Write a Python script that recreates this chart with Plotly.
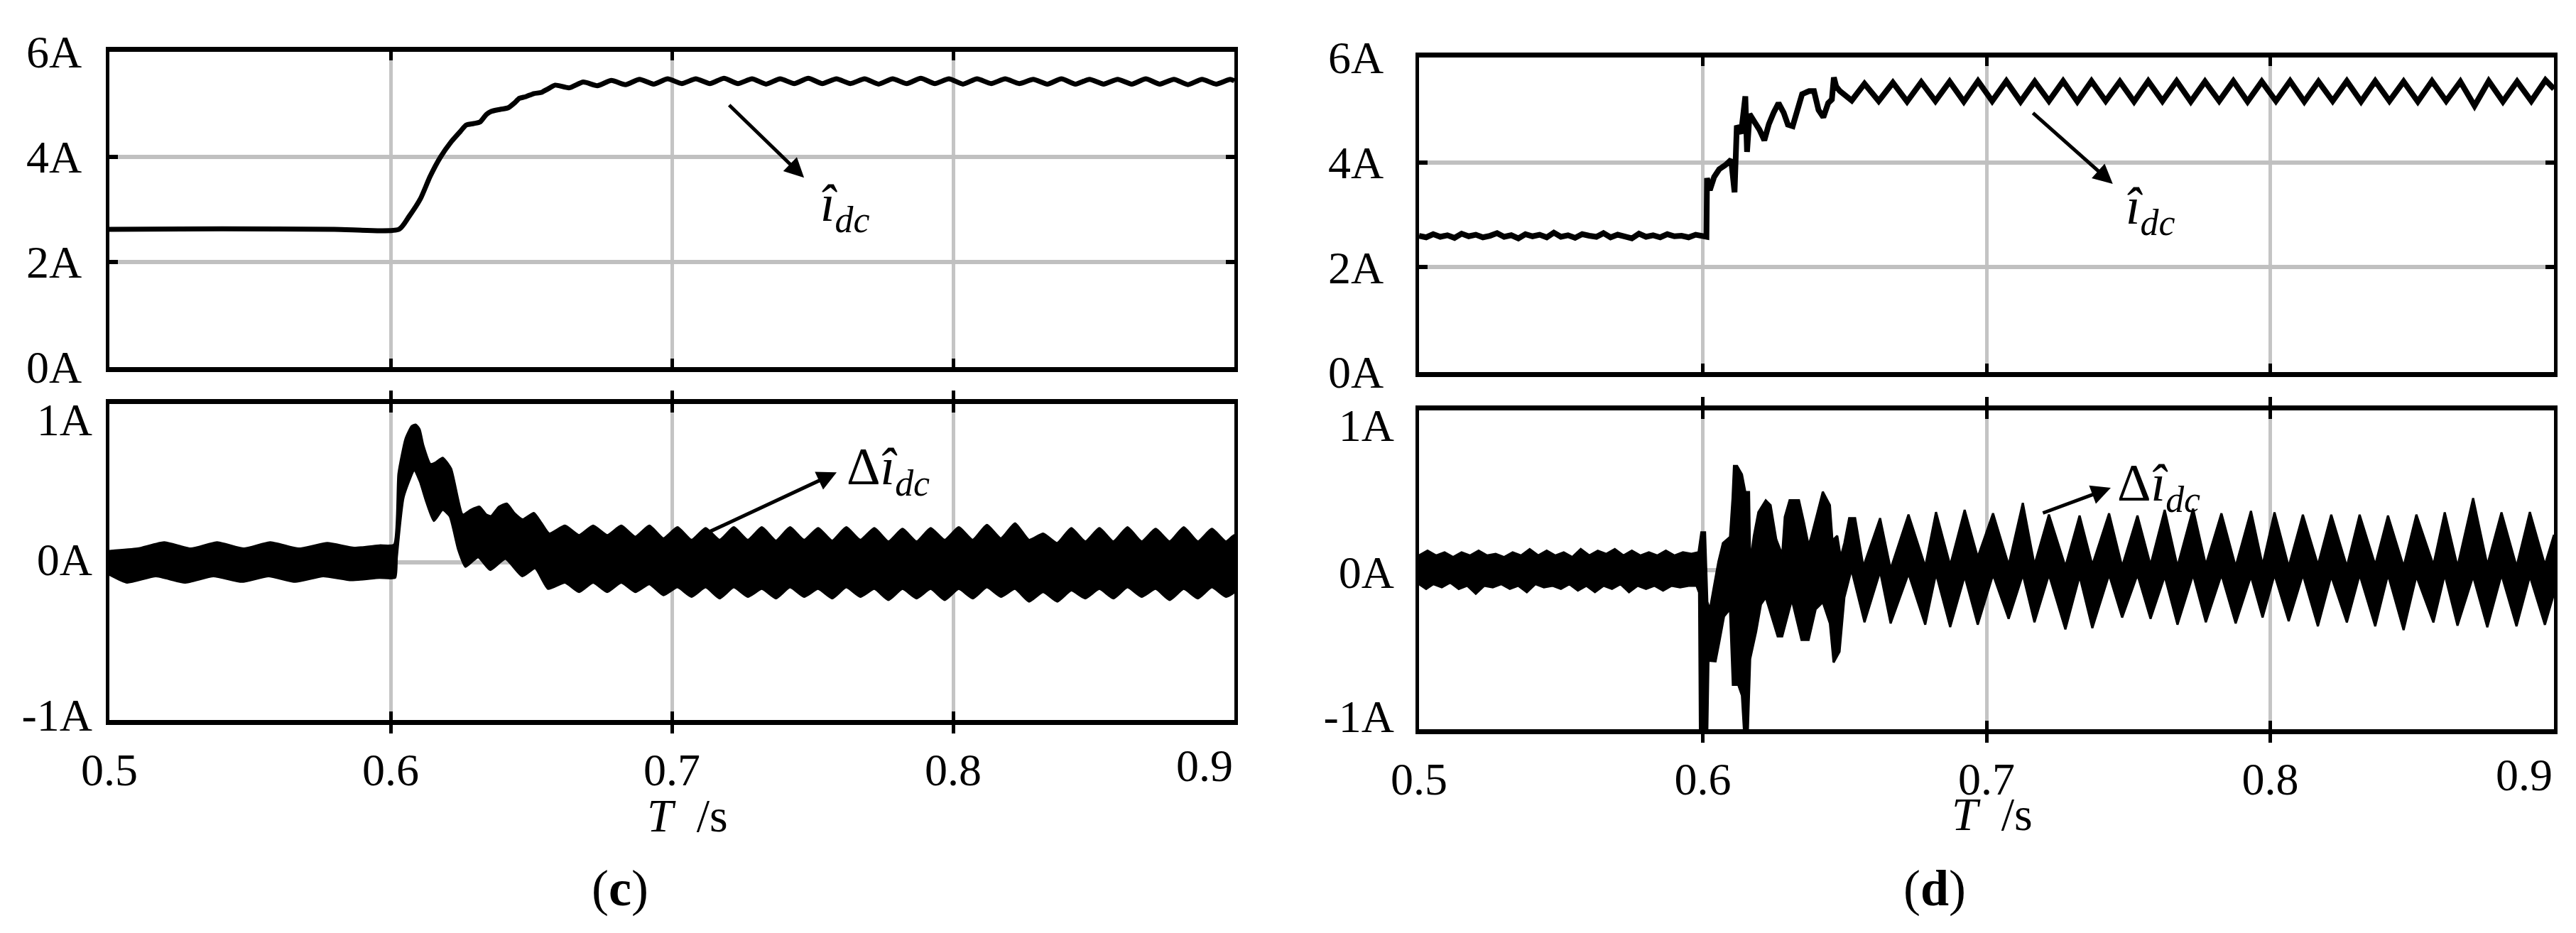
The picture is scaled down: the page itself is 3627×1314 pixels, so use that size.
import plotly.graph_objects as go

W, H = 3627, 1314
FONT = "Liberation Serif, Times New Roman, serif"

# ---------------- data ----------------
# (c) upper panel: estimated dc current
c_top_t = [0.5000, 0.5400, 0.5800, 0.6030, 0.6065, 0.6106, 0.6140, 0.6177, 0.6215, 0.6248,
           0.6268, 0.6295, 0.6318, 0.6340, 0.6357, 0.6390, 0.6418, 0.6440, 0.6458, 0.6480,
           0.6509, 0.6535, 0.6560,
           0.6585, 0.6635, 0.6685, 0.6735, 0.6785, 0.6835, 0.6885, 0.6935, 0.6985, 0.7035,
           0.7085, 0.7135, 0.7185, 0.7235, 0.7285, 0.7335, 0.7385, 0.7435, 0.7485, 0.7535,
           0.7585, 0.7635, 0.7685, 0.7735, 0.7785, 0.7835, 0.7885, 0.7935, 0.7985, 0.8035,
           0.8085, 0.8135, 0.8185, 0.8235, 0.8285, 0.8335, 0.8385, 0.8435, 0.8485, 0.8535,
           0.8585, 0.8635, 0.8685, 0.8735, 0.8785, 0.8835, 0.8885, 0.8935, 0.8985, 0.9000]
c_top_v = [2.62, 2.63, 2.62, 2.62, 2.86, 3.20, 3.62, 3.99, 4.28, 4.48,
           4.60, 4.63, 4.66, 4.80, 4.86, 4.90, 4.93, 5.02, 5.11, 5.14,
           5.20, 5.22, 5.29,
           5.36, 5.31, 5.42, 5.35, 5.45, 5.37, 5.47, 5.38, 5.48, 5.39,
           5.48, 5.39, 5.49, 5.39, 5.48, 5.38, 5.48, 5.39, 5.49, 5.39,
           5.48, 5.39, 5.48, 5.38, 5.48, 5.39, 5.49, 5.39, 5.48, 5.38,
           5.48, 5.39, 5.48, 5.39, 5.47, 5.38, 5.48, 5.38, 5.47, 5.38,
           5.47, 5.38, 5.48, 5.38, 5.47, 5.37, 5.47, 5.38, 5.47, 5.44]

# (c) lower panel: error band (upper / lower envelope)
c_bot_up_t = [0.5000, 0.5100, 0.5195, 0.5290, 0.5383, 0.5478, 0.5572, 0.5673, 0.5775, 0.5870,
              0.5960, 0.6012, 0.6028, 0.6053, 0.6075, 0.6089, 0.6103, 0.6116, 0.6142, 0.6160,
              0.6185, 0.6215, 0.6256, 0.6285, 0.6316, 0.6340, 0.6357, 0.6385, 0.6413, 0.6440,
              0.6470, 0.6509, 0.6535, 0.6564,
              0.6620, 0.6670, 0.6720, 0.6770, 0.6820, 0.6870, 0.6920, 0.6970, 0.7020, 0.7070,
              0.7120, 0.7170, 0.7220, 0.7270, 0.7320, 0.7370, 0.7420, 0.7470, 0.7520, 0.7570,
              0.7620, 0.7670, 0.7720, 0.7770, 0.7820, 0.7870, 0.7920, 0.7970, 0.8020, 0.8070,
              0.8120, 0.8170, 0.8220, 0.8270, 0.8320, 0.8370, 0.8420, 0.8470, 0.8520, 0.8570,
              0.8620, 0.8670, 0.8720, 0.8770, 0.8820, 0.8870, 0.8920, 0.8970, 0.9000]
c_bot_up_v = [0.07, 0.085, 0.125, 0.085, 0.125, 0.085, 0.125, 0.085, 0.12, 0.09,
              0.105, 0.11, 0.56, 0.78, 0.86, 0.87, 0.84, 0.74, 0.62, 0.63,
              0.66, 0.59, 0.30, 0.33, 0.35, 0.30, 0.29, 0.35, 0.37, 0.31,
              0.27, 0.31, 0.25, 0.18,
              0.23, 0.17, 0.23, 0.17, 0.23, 0.16, 0.23, 0.15, 0.22, 0.14,
              0.215, 0.14, 0.22, 0.14, 0.22, 0.135, 0.22, 0.14, 0.215, 0.135,
              0.22, 0.14, 0.215, 0.13, 0.21, 0.13, 0.215, 0.14, 0.22, 0.14,
              0.235, 0.15, 0.245, 0.14, 0.18, 0.12, 0.215, 0.13, 0.215, 0.13,
              0.22, 0.13, 0.21, 0.13, 0.22, 0.13, 0.21, 0.13, 0.17]
c_bot_lo_t = [0.5000, 0.5063, 0.5165, 0.5268, 0.5370, 0.5471, 0.5566, 0.5661, 0.5760, 0.5860,
              0.5960, 0.6016, 0.6022, 0.6046, 0.6084, 0.6104, 0.6127, 0.6154, 0.6185, 0.6210,
              0.6240, 0.6266, 0.6311, 0.6354, 0.6408, 0.6468, 0.6514, 0.6560,
              0.6620, 0.6670, 0.6720, 0.6770, 0.6820, 0.6870, 0.6920, 0.6970, 0.7020, 0.7070,
              0.7120, 0.7170, 0.7220, 0.7270, 0.7320, 0.7370, 0.7420, 0.7470, 0.7520, 0.7570,
              0.7620, 0.7670, 0.7720, 0.7770, 0.7820, 0.7870, 0.7920, 0.7970, 0.8020, 0.8070,
              0.8120, 0.8170, 0.8220, 0.8270, 0.8320, 0.8370, 0.8420, 0.8470, 0.8520, 0.8570,
              0.8620, 0.8670, 0.8720, 0.8770, 0.8820, 0.8870, 0.8920, 0.8970, 0.9000]
c_bot_lo_v = [-0.08, -0.13, -0.09, -0.13, -0.09, -0.125, -0.09, -0.125, -0.09, -0.115,
              -0.10, -0.10, 0.03, 0.41, 0.58, 0.51, 0.38, 0.26, 0.33, 0.29,
              0.08, -0.03, 0.03, -0.05, 0.02, -0.09, -0.04, -0.17,
              -0.13, -0.19, -0.13, -0.19, -0.13, -0.19, -0.14, -0.21, -0.16, -0.22,
              -0.16, -0.23, -0.16, -0.22, -0.17, -0.23, -0.16, -0.22, -0.17, -0.23,
              -0.16, -0.22, -0.17, -0.24, -0.17, -0.23, -0.17, -0.24, -0.17, -0.23,
              -0.16, -0.22, -0.17, -0.25, -0.19, -0.25, -0.18, -0.23, -0.17, -0.23,
              -0.16, -0.22, -0.17, -0.24, -0.17, -0.23, -0.16, -0.22, -0.19]

# (d) upper panel: estimated dc current
d_top_t = [0.5000, 0.5025, 0.5050, 0.5075, 0.5100, 0.5125, 0.5150, 0.5175, 0.5200, 0.5225,
           0.5250, 0.5275, 0.5300, 0.5325, 0.5350, 0.5375, 0.5400, 0.5425, 0.5450, 0.5475,
           0.5500, 0.5525, 0.5550, 0.5575, 0.5600, 0.5625, 0.5650, 0.5675, 0.5700, 0.5725,
           0.5750, 0.5775, 0.5800, 0.5825, 0.5850, 0.5875, 0.5900, 0.5925, 0.5950, 0.5975,
           0.6000,
           0.6013, 0.6015, 0.6025, 0.6040, 0.6058, 0.6080, 0.6100, 0.6112, 0.6120, 0.6135,
           0.6150, 0.6156, 0.6165, 0.6185, 0.6200, 0.6217, 0.6233, 0.6250, 0.6267, 0.6285,
           0.6300, 0.6317, 0.6333, 0.6350, 0.6375, 0.6392, 0.6408, 0.6425, 0.6442, 0.6455,
           0.6462, 0.6470, 0.6483, 0.6500, 0.6525,
           0.6570, 0.6620, 0.6670, 0.6720, 0.6770, 0.6820, 0.6870, 0.6920, 0.6970, 0.7020,
           0.7070, 0.7120, 0.7170, 0.7220, 0.7270, 0.7320, 0.7370, 0.7420, 0.7470, 0.7520,
           0.7570, 0.7620, 0.7670, 0.7720, 0.7770, 0.7820, 0.7870, 0.7920, 0.7970, 0.8020,
           0.8070, 0.8120, 0.8170, 0.8220, 0.8270, 0.8320, 0.8370, 0.8420, 0.8470, 0.8520,
           0.8570, 0.8620, 0.8670, 0.8720, 0.8770, 0.8820, 0.8870, 0.8920, 0.8970, 0.9000]
d_top_v = [2.60, 2.57, 2.63, 2.58, 2.61, 2.56, 2.64, 2.59, 2.62, 2.57,
           2.60, 2.65, 2.58, 2.61, 2.55, 2.63, 2.59, 2.62, 2.57, 2.66,
           2.58, 2.61, 2.56, 2.63, 2.60, 2.58, 2.65, 2.57, 2.62, 2.59,
           2.55, 2.64, 2.58, 2.61, 2.57, 2.63, 2.59, 2.60, 2.57, 2.62,
           2.59,
           2.58, 3.70, 3.47, 3.72, 3.87, 3.95, 4.05, 3.43, 4.70, 4.55,
           5.26, 4.20, 4.92, 4.75, 4.62, 4.42, 4.73, 4.95, 5.13, 4.95,
           4.72, 4.69, 5.00, 5.30, 5.36, 5.36, 5.00, 4.86, 5.13, 5.20,
           5.62, 5.45, 5.36, 5.28, 5.18,
           5.50, 5.17, 5.52, 5.16, 5.53, 5.17, 5.54, 5.16, 5.55, 5.17,
           5.55, 5.16, 5.54, 5.17, 5.55, 5.16, 5.55, 5.17, 5.54, 5.16,
           5.55, 5.17, 5.55, 5.16, 5.54, 5.17, 5.55, 5.16, 5.54, 5.17,
           5.55, 5.16, 5.54, 5.17, 5.55, 5.16, 5.55, 5.17, 5.54, 5.16,
           5.55, 5.17, 5.54, 5.08, 5.55, 5.16, 5.54, 5.17, 5.57, 5.40]

# (d) lower panel: error band (upper / lower envelope)
d_bot_up_t = [0.5000, 0.5030, 0.5060, 0.5090, 0.5120, 0.5150, 0.5180, 0.5210, 0.5240, 0.5270,
              0.5300, 0.5330, 0.5360, 0.5390, 0.5420, 0.5450, 0.5480, 0.5510, 0.5540, 0.5570,
              0.5600, 0.5630, 0.5660, 0.5690, 0.5720, 0.5750, 0.5780, 0.5810, 0.5840, 0.5870,
              0.5900, 0.5930, 0.5960, 0.5985,
              0.5995, 0.6008, 0.6016, 0.6025, 0.6037, 0.6055, 0.6071, 0.6096, 0.6105, 0.6110,
              0.6121, 0.6138, 0.6150, 0.6163, 0.6167, 0.6180, 0.6196, 0.6222, 0.6239, 0.6259,
              0.6280, 0.6289, 0.6306, 0.6339, 0.6356, 0.6373, 0.6381, 0.6398, 0.6423, 0.6448,
              0.6457, 0.6474, 0.6486, 0.6499, 0.6516, 0.6537,
              0.6566, 0.6625, 0.6662, 0.6725, 0.6784, 0.6822, 0.6872, 0.6923, 0.6969, 0.7023,
              0.7078, 0.7128, 0.7169, 0.7220, 0.7278, 0.7328, 0.7373, 0.7432, 0.7478, 0.7532,
              0.7578, 0.7628, 0.7673, 0.7728, 0.7773, 0.7828, 0.7878, 0.7932, 0.7973, 0.8015,
              0.8065, 0.8115, 0.8168, 0.8215, 0.8270, 0.8315, 0.8370, 0.8415, 0.8470, 0.8515,
              0.8575, 0.8615, 0.8660, 0.8715, 0.8765, 0.8815, 0.8868, 0.8915, 0.8968, 0.9000]
d_bot_up_v = [0.09, 0.12, 0.09, 0.11, 0.08, 0.11, 0.09, 0.12, 0.09, 0.10,
              0.08, 0.11, 0.09, 0.13, 0.09, 0.12, 0.09, 0.11, 0.08, 0.13,
              0.09, 0.12, 0.10, 0.13, 0.09, 0.12, 0.09, 0.11, 0.09, 0.12,
              0.09, 0.11, 0.10, 0.11,
              0.235, 0.235, -0.20, -0.25, -0.128, 0.05, 0.168, 0.206, 0.45, 0.651,
              0.651, 0.599, 0.488, 0.488, 0.042, 0.213, 0.362, 0.436, 0.406, 0.191,
              0.094, 0.332, 0.436, 0.436, 0.302, 0.154, 0.198, 0.317, 0.49, 0.406,
              0.184, 0.213, 0.079, 0.168, 0.324, 0.324,
              0.02, 0.324, 0.005, 0.347, 0.02, 0.362, 0.028, 0.376, 0.079, 0.354,
              0.03, 0.42, 0.03, 0.347, 0.02, 0.34, 0.03, 0.354, 0.02, 0.34,
              0.03, 0.376, 0.02, 0.384, 0.03, 0.354, 0.02, 0.369, 0.03, 0.36,
              0.02, 0.346, 0.03, 0.346, 0.02, 0.346, 0.03, 0.34, 0.02, 0.346,
              0.03, 0.36, 0.02, 0.45, 0.03, 0.36, 0.02, 0.362, 0.03, 0.22]
d_bot_lo_t = [0.5000, 0.5025, 0.5050, 0.5080, 0.5110, 0.5140, 0.5170, 0.5200, 0.5230, 0.5260,
              0.5290, 0.5320, 0.5350, 0.5380, 0.5410, 0.5440, 0.5470, 0.5500, 0.5530, 0.5560,
              0.5590, 0.5620, 0.5650, 0.5680, 0.5710, 0.5740, 0.5770, 0.5800, 0.5830, 0.5860,
              0.5890, 0.5920, 0.5950, 0.5978, 0.5987,
              0.5990, 0.6016, 0.6020, 0.6045, 0.6058, 0.6075, 0.6096, 0.6106, 0.6125, 0.6138,
              0.6145, 0.6159, 0.6167, 0.6188, 0.6205, 0.6222, 0.6239, 0.6264, 0.6280, 0.6314,
              0.6348, 0.6373, 0.6398, 0.6423, 0.6448, 0.6461, 0.6482, 0.6499,
              0.6524, 0.6570, 0.6625, 0.6662, 0.6725, 0.6784, 0.6822, 0.6872, 0.6923, 0.6969,
              0.7023, 0.7078, 0.7128, 0.7169, 0.7220, 0.7278, 0.7328, 0.7373, 0.7432, 0.7478,
              0.7532, 0.7578, 0.7628, 0.7673, 0.7728, 0.7773, 0.7828, 0.7878, 0.7932, 0.7973,
              0.8015, 0.8065, 0.8115, 0.8168, 0.8215, 0.8270, 0.8315, 0.8370, 0.8415, 0.8470,
              0.8515, 0.8575, 0.8615, 0.8660, 0.8715, 0.8765, 0.8815, 0.8868, 0.8915, 0.8968,
              0.9000]
d_bot_lo_v = [-0.09, -0.12, -0.09, -0.11, -0.08, -0.12, -0.10, -0.15, -0.10, -0.11,
              -0.09, -0.12, -0.10, -0.14, -0.09, -0.11, -0.10, -0.12, -0.09, -0.13,
              -0.10, -0.14, -0.10, -0.12, -0.09, -0.14, -0.10, -0.12, -0.10, -0.13,
              -0.10, -0.11, -0.10, -0.10, -0.143,
              -1.0, -1.0, -0.57, -0.574, -0.455, -0.292, -0.247, -0.722, -0.722, -0.789,
              -1.0, -1.0, -0.559, -0.388, -0.217, -0.173, -0.277, -0.418, -0.418, -0.188,
              -0.44, -0.44, -0.247, -0.203, -0.336, -0.581, -0.514, -0.173,
              0.0, -0.329, -0.01, -0.336, -0.024, -0.344, -0.024, -0.359, -0.039, -0.344,
              -0.03, -0.307, -0.03, -0.329, -0.03, -0.373, -0.04, -0.366, -0.03, -0.299,
              -0.03, -0.307, -0.04, -0.344, -0.03, -0.329, -0.03, -0.336, -0.04, -0.299,
              -0.03, -0.322, -0.03, -0.354, -0.04, -0.33, -0.03, -0.354, -0.03, -0.378,
              -0.04, -0.33, -0.03, -0.35, -0.04, -0.36, -0.03, -0.354, -0.04, -0.345,
              -0.15]

# axis ticks
x_ticks = [0.5, 0.6, 0.7, 0.8, 0.9]
x_tick_text = ["0.5", "0.6", "0.7", "0.8", ""]
x_last_label = "0.9"
top_y_ticks = [0, 2, 4, 6]
top_y_text = ["0A", "2A", "4A", "6A"]
bot_y_ticks = [-1, 0, 1]
bot_y_text = ["-1A", "0A", "1A"]
# where the reference prints the lower-panel tick labels (slightly inset from the frame)
bot_c_label_pos = [-0.968, 0.018, 0.905]
bot_d_label_pos = [-0.92, -0.016, 0.91]

# ---------------- figure ----------------
fig = go.Figure()
fig.add_trace(go.Scatter(x=c_top_t, y=c_top_v, mode="lines",
                         line=dict(color="black", width=7, shape="spline", smoothing=0.6),
                         xaxis="x", yaxis="y", hoverinfo="skip"))
fig.add_trace(go.Scatter(x=c_bot_up_t + c_bot_lo_t[::-1], y=c_bot_up_v + c_bot_lo_v[::-1],
                         mode="lines", fill="toself", fillcolor="black",
                         line=dict(color="black", width=3, shape="spline", smoothing=0.5),
                         xaxis="x2", yaxis="y2", hoverinfo="skip"))
fig.add_trace(go.Scatter(x=d_top_t, y=d_top_v, mode="lines",
                         line=dict(color="black", width=8),
                         xaxis="x3", yaxis="y3", hoverinfo="skip"))
fig.add_trace(go.Scatter(x=d_bot_up_t + d_bot_lo_t[::-1], y=d_bot_up_v + d_bot_lo_v[::-1],
                         mode="lines", fill="toself", fillcolor="black",
                         line=dict(color="black", width=3),
                         xaxis="x4", yaxis="y4", hoverinfo="skip"))
# empty traces so the label-only overlay axes get drawn
fig.add_trace(go.Scatter(x=[], y=[], xaxis="x2", yaxis="y5", hoverinfo="skip"))
fig.add_trace(go.Scatter(x=[], y=[], xaxis="x4", yaxis="y6", hoverinfo="skip"))

tickfont = dict(family=FONT, size=64, color="black")


def xax(domain, anchor, labels):
    return dict(domain=domain, anchor=anchor, range=[0.5, 0.9], tickmode="array",
                tickvals=x_ticks, ticktext=x_tick_text, showticklabels=labels,
                showgrid=True, gridcolor="#c4c4c4", gridwidth=5, zeroline=False,
                showline=True, linecolor="black", linewidth=7, mirror="allticks",
                ticks="inside", ticklen=12, tickwidth=5, tickcolor="black",
                tickfont=tickfont, ticklabelstandoff=8, automargin=False)


def yax(domain, anchor, rng, vals, text, standoff, labels=True):
    return dict(domain=domain, anchor=anchor, range=rng, tickmode="array",
                tickvals=vals, ticktext=text, showticklabels=labels,
                showgrid=True, gridcolor="#c0c0c0",
                gridwidth=6, zeroline=False, showline=True, linecolor="black",
                linewidth=5, mirror="allticks", ticks="inside", ticklen=12,
                tickwidth=6, tickcolor="black", tickfont=tickfont,
                ticklabelstandoff=standoff, automargin=False)


def ylabels(over, anchor, pos, text, standoff):
    return dict(overlaying=over, anchor=anchor, side="left", range=[-1, 1],
                tickmode="array", tickvals=pos, ticktext=text, showgrid=False,
                zeroline=False, showline=False, ticks="", tickfont=tickfont,
                ticklabelstandoff=standoff, automargin=False)


xL = [146 / W, 1730 / W]
xR = [1990 / W, 3588 / W]
yTL = [1 - 509 / H, 1 - 64.5 / H]
yBL = [1 - 1006 / H, 1 - 561 / H]
yTR = [1 - 516 / H, 1 - 73 / H]
yBR = [1 - 1019 / H, 1 - 570 / H]

fig.update_layout(
    width=W, height=H, margin=dict(l=0, r=0, t=0, b=0, autoexpand=False),
    paper_bgcolor="white", plot_bgcolor="white", showlegend=False,
    xaxis=xax(xL, "y", False), yaxis=yax(yTL, "x", [0, 6], top_y_ticks, top_y_text, 21),
    xaxis2=xax(xL, "y2", True),
    yaxis2=yax(yBL, "x2", [-1, 1], bot_y_ticks, bot_y_text, 21, labels=False),
    xaxis3=xax(xR, "y3", False), yaxis3=yax(yTR, "x3", [0, 6], top_y_ticks, top_y_text, 32),
    xaxis4=xax(xR, "y4", True),
    yaxis4=yax(yBR, "x4", [-1, 1], bot_y_ticks, bot_y_text, 32, labels=False),
    yaxis5=ylabels("y2", "x2", bot_c_label_pos, bot_y_text, 23),
    yaxis6=ylabels("y4", "x4", bot_d_label_pos, bot_y_text, 34),
)

label_font = dict(family=FONT, size=74, color="black")
arrow = dict(text="", showarrow=True, arrowhead=2, arrowsize=1.1, arrowwidth=5,
             arrowcolor="black", standoff=0)
ann = [
    dict(x=0.747, y=3.6, ax=0.720, ay=5.0, xref="x", yref="y", axref="x", ayref="y", **arrow),
    dict(x=0.7586, y=0.567, ax=0.7126, ay=0.185, xref="x2", yref="y2", axref="x2", ayref="y2", **arrow),
    dict(x=0.7445, y=3.59, ax=0.716, ay=4.96, xref="x3", yref="y3", axref="x3", ayref="y3", **arrow),
    dict(x=0.7438, y=0.514, ax=0.7195, ay=0.354, xref="x4", yref="y4", axref="x4", ayref="y4", **arrow),
    dict(x=0.7523, y=3.04, xref="x", yref="y", text="<i>î</i><sub><i>dc</i></sub>",
         showarrow=False, xanchor="left", yanchor="middle", font=label_font),
    dict(x=0.7616, y=0.58, xref="x2", yref="y2", text="Δ<i>î</i><sub><i>dc</i></sub>",
         showarrow=False, xanchor="left", yanchor="middle", font=label_font),
    dict(x=0.7485, y=3.09, xref="x3", yref="y3", text="<i>î</i><sub><i>dc</i></sub>",
         showarrow=False, xanchor="left", yanchor="middle", font=label_font),
    dict(x=0.7455, y=0.52, xref="x4", yref="y4", text="Δ<i>î</i><sub><i>dc</i></sub>",
         showarrow=False, xanchor="left", yanchor="middle", font=label_font),
    # last x tick label, right-aligned to the frame as in the reference
    dict(x=0.9, y=1 - 1033 / H, xref="x2", yref="paper", text=x_last_label, showarrow=False,
         xanchor="right", yanchor="top", font=tickfont),
    dict(x=0.9, y=1 - 1046 / H, xref="x4", yref="paper", text=x_last_label, showarrow=False,
         xanchor="right", yanchor="top", font=tickfont),
    dict(x=960 / W, y=1 - 1140 / H, xref="paper", yref="paper", text="<i>T</i>\u2002/s",
         showarrow=False, xanchor="center", yanchor="middle",
         font=dict(family=FONT, size=66, color="black")),
    dict(x=2797 / W, y=1 - 1138 / H, xref="paper", yref="paper", text="<i>T</i>\u2002/s",
         showarrow=False, xanchor="center", yanchor="middle",
         font=dict(family=FONT, size=66, color="black")),
    dict(x=865 / W, y=1 - 1243 / H, xref="paper", yref="paper", text="(<b>c</b>)",
         showarrow=False, xanchor="center", yanchor="middle",
         font=dict(family=FONT, size=72, color="black")),
    dict(x=2716 / W, y=1 - 1243 / H, xref="paper", yref="paper", text="(<b>d</b>)",
         showarrow=False, xanchor="center", yanchor="middle",
         font=dict(family=FONT, size=72, color="black")),
]
fig.update_layout(annotations=ann)

fig.write_html("out.html")
